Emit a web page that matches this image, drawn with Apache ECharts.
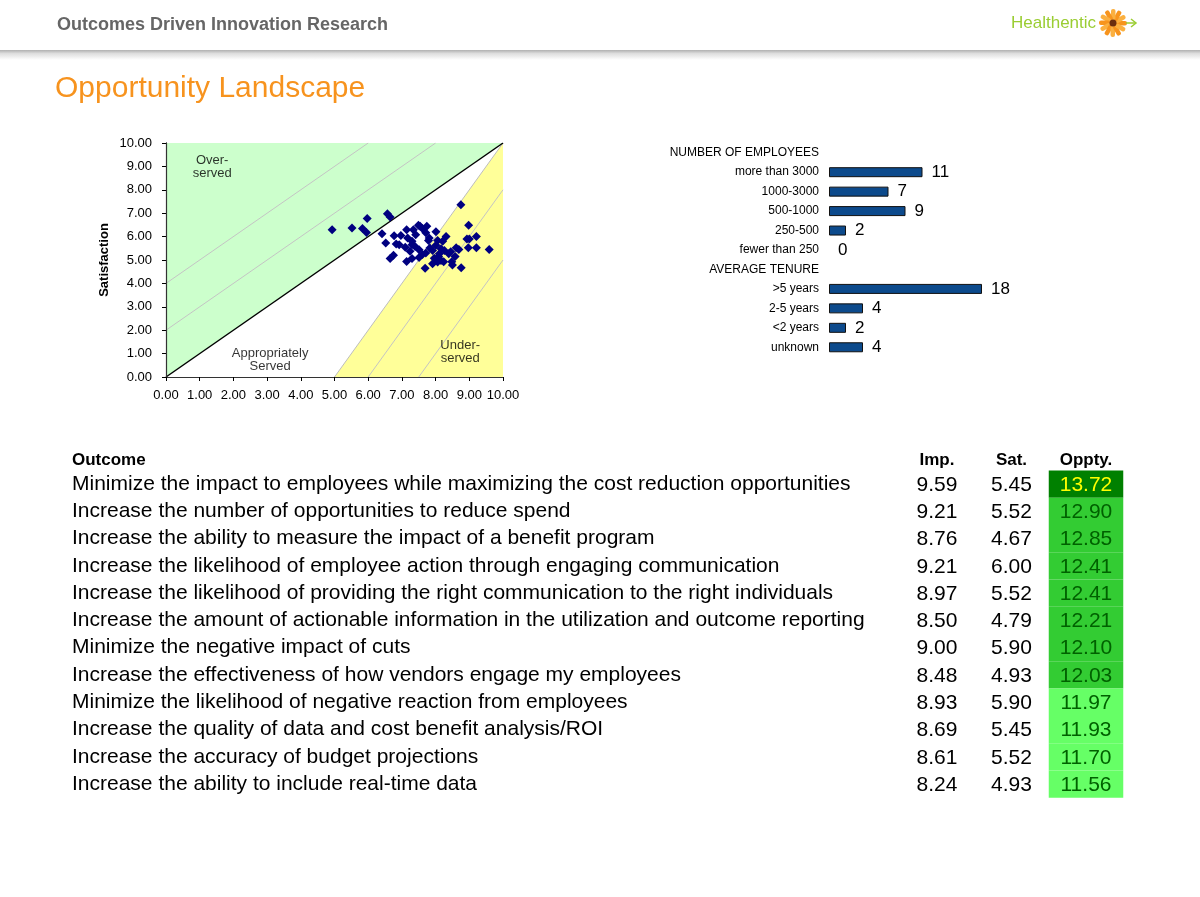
<!DOCTYPE html>
<html>
<head>
<meta charset="utf-8">
<script src="https://cdn.jsdelivr.net/npm/echarts@6/dist/echarts.min.js"></script>
<style>html,body{margin:0;padding:0;background:#fff}#c{width:1200px;height:897px}</style>
</head>
<body>
<div id="c"></div>
<script>
// ---------- DATA ----------
const scatterPoints = [
  [9.59,5.45],[9.21,5.52],[8.76,4.67],[9.21,6.00],[8.97,5.52],[8.50,4.79],
  [9.00,5.90],[8.48,4.93],[8.93,5.90],[8.69,5.45],[8.61,5.52],[8.24,4.93],
  [4.93,6.29],[5.52,6.37],[5.97,6.77],[5.83,6.35],[5.95,6.18],[6.57,6.98],
  [6.65,6.84],[6.41,6.12],[6.52,5.73],[6.77,6.04],[6.97,6.05],[6.83,5.68],
  [6.65,5.06],[6.75,5.20],[7.14,6.29],[7.34,6.29],[7.49,6.48],[7.61,6.35],
  [7.71,6.16],[7.17,5.94],[7.30,5.80],[7.10,5.54],[7.39,5.58],[7.51,5.44],
  [7.71,5.30],[7.14,4.94],[7.30,5.06],[7.51,5.11],[7.61,5.23],[7.79,5.83],
  [8.01,6.21],[8.31,6.00],[8.01,5.63],[8.16,5.48],[8.26,5.41],[8.11,5.27],
  [7.96,5.08],[8.16,4.98],[7.91,4.84],[7.69,4.65],[8.75,7.36],[8.98,6.48],
  [8.39,5.27],[7.83,5.51],[7.91,5.41],[8.06,5.83],[7.41,6.08],[7.24,5.37],
  [6.92,5.65],[8.21,5.80],[7.81,5.94],[8.06,4.91],[8.45,5.35],[8.58,5.15],
  [7.54,6.44],[7.74,6.44],[8.09,5.15],[7.30,5.65]
];
const diagonalLine = [[0,0],[10,10]];
const underservedEdge = [[5,0],[10,10]];
const contourLines = [
  [[0,2],[8,10]],
  [[0,4],[6,10]],
  [[6,0],[10,8]],
  [[7.5,0],[10,5]]
];
const axisValueFormat = 2;

const empCategories = ['NUMBER OF EMPLOYEES','more than 3000','1000-3000','500-1000','250-500','fewer than 250',
  'AVERAGE TENURE','>5 years','2-5 years','<2 years','unknown'];
const empValues = [null,11,7,9,2,0,null,18,4,2,4];

const tableColumns = ['Imp.','Sat.','Oppty.'];
const outcomes = [
  'Minimize the impact to employees while maximizing the cost reduction opportunities',
  'Increase the number of opportunities to reduce spend',
  'Increase the ability to measure the impact of a benefit program',
  'Increase the likelihood of employee action through engaging communication',
  'Increase the likelihood of providing the right communication to the right individuals',
  'Increase the amount of actionable information in the utilization and outcome reporting',
  'Minimize the negative impact of cuts',
  'Increase the effectiveness of how vendors engage my employees',
  'Minimize the likelihood of negative reaction from employees',
  'Increase the quality of data and cost benefit analysis/ROI',
  'Increase the accuracy of budget projections',
  'Increase the ability to include real-time data'
];
const impValues = [9.59,9.21,8.76,9.21,8.97,8.50,9.00,8.48,8.93,8.69,8.61,8.24];
const satValues = [5.45,5.52,4.67,6.00,5.52,4.79,5.90,4.93,5.90,5.45,5.52,4.93];
const opptyValues = [13.72,12.90,12.85,12.41,12.41,12.21,12.10,12.03,11.97,11.93,11.70,11.56];
const opptyTier = [0,1,1,1,1,1,1,1,2,2,2,2];

// ---------- STYLE ----------
const F = '"Liberation Sans", Arial, Helvetica, sans-serif';
const tierFill = ['#008000','#33cc33','#66ff66'];
const tierText = ['#ffff00','#006100','#006100'];

const tableData = [];
outcomes.forEach((o,i)=>{
  tableData.push([0,i,impValues[i],-1]);
  tableData.push([1,i,satValues[i],-1]);
  tableData.push([2,i,opptyValues[i],opptyTier[i]]);
});

const barData = empValues.map(v => v === null ? '-' : (v === 0 ? {value:0, itemStyle:{borderWidth:0}} : v));

// logo petals
const petals = [];
for (let i=0;i<12;i++){
  petals.push({type:'rect', rotation: i*Math.PI/6, shape:{x:3,y:-2,width:11,height:4.5,r:2},
    style:{fill: i%2 ? '#fbb040' : '#f7941d'}});
}
petals.push({type:'circle', shape:{cx:0,cy:0,r:3.5}, style:{fill:'#6b2e0e'}});

const chart = echarts.init(document.getElementById('c'), null, {renderer:'canvas'});
const option = {
  backgroundColor:'#ffffff',
  animation:false,
  textStyle:{fontFamily:F},
  graphic:[
    {type:'rect', shape:{x:0,y:50,width:1200,height:10}, style:{fill:{type:'linear',x:0,y:0,x2:0,y2:1,
      colorStops:[{offset:0,color:'#b0b0b0'},{offset:0.35,color:'#dddddd'},{offset:1,color:'#ffffff'}]}}},
    {type:'text', x:57, y:25, style:{text:'Outcomes Driven Innovation Research', fontSize:18, fontWeight:'bold',
      fontFamily:F, fill:'#666666', verticalAlign:'middle'}},
    {type:'text', x:1011, y:23, style:{text:'Healthentic', fontSize:17, fontFamily:F, fill:'#9acd32', verticalAlign:'middle'}},
    {type:'group', x:1113, y:23, children:petals},
    {type:'polyline', shape:{points:[[1126,23],[1136,23]]}, style:{stroke:'#9acd32', lineWidth:1.5, fill:null}},
    {type:'polyline', shape:{points:[[1131,19],[1136,23],[1131,27]]}, style:{stroke:'#9acd32', lineWidth:1.5, fill:null}},
    {type:'text', x:55, y:89, style:{text:'Opportunity Landscape', fontSize:30, fontFamily:F, fill:'#f7931e', verticalAlign:'middle'}},
    {type:'text', x:72, y:460, style:{text:'Outcome', fontSize:17, fontWeight:'bold', fontFamily:F, fill:'#000', verticalAlign:'middle'}}
  ],
  grid:[
    {left:166, top:143, width:337, height:234},
    {left:829, top:143, width:153, height:214},
    {left:899.75, top:470.4, width:223.5, height:327.3}
  ],
  xAxis:[
    {gridIndex:0, type:'value', min:0, max:10, interval:1, z:10,
      axisLine:{lineStyle:{color:'#000', width:1}},
      axisTick:{show:true, length:4, lineStyle:{color:'#000'}},
      splitLine:{show:false},
      axisLabel:{color:'#000', fontSize:13, fontFamily:F, margin:12, formatter:v=>v.toFixed(axisValueFormat)}},
    {gridIndex:0, type:'value', position:'top', min:0, max:10, z:10,
      axisLine:{show:true, lineStyle:{color:'#333', width:1.2}}, axisTick:{show:false}, axisLabel:{show:false}, splitLine:{show:false}},
    {gridIndex:1, type:'value', min:0, max:18, show:false},
    {gridIndex:2, type:'category', position:'top', data:tableColumns,
      axisLine:{show:false}, axisTick:{show:false}, splitLine:{show:false},
      axisLabel:{fontWeight:'bold', fontSize:17, color:'#000', fontFamily:F, margin:2}}
  ],
  yAxis:[
    {gridIndex:0, type:'value', min:0, max:10, interval:1, z:10,
      name:'Satisfaction', nameLocation:'middle', nameGap:55,
      nameTextStyle:{fontWeight:'bold', fontSize:13, color:'#000', fontFamily:F},
      axisLine:{show:true, lineStyle:{color:'#000', width:1}},
      axisTick:{show:true, length:4, lineStyle:{color:'#000'}},
      splitLine:{show:false},
      axisLabel:{color:'#000', fontSize:13, fontFamily:F, margin:14, formatter:v=>v.toFixed(axisValueFormat)}},
    {gridIndex:0, type:'value', position:'right', min:0, max:10, z:10,
      axisLine:{show:true, lineStyle:{color:'#333', width:1.2}}, axisTick:{show:false}, axisLabel:{show:false}, splitLine:{show:false}},
    {gridIndex:1, type:'category', inverse:true, data:empCategories,
      axisLine:{show:false}, axisTick:{show:false},
      axisLabel:{interval:0, fontSize:12, color:'#000', fontFamily:F, margin:10, padding:[2,0,0,0]}},
    {gridIndex:2, type:'category', inverse:true, data:outcomes,
      axisLine:{show:false}, axisTick:{show:false},
      axisLabel:{interval:0, align:'left', margin:827.75, fontSize:21, color:'#000', fontFamily:F, padding:[4,0,0,0]}}
  ],
  series:[
    {type:'line', xAxisIndex:0, yAxisIndex:0, data:diagonalLine, symbol:'none', silent:true, z:1,
      lineStyle:{width:0, opacity:0}, areaStyle:{color:'#ccffcc', opacity:1, origin:'end'}},
    {type:'line', xAxisIndex:0, yAxisIndex:0, data:underservedEdge, symbol:'none', silent:true, z:1,
      lineStyle:{width:1, color:'#bdbdbd'}, areaStyle:{color:'#ffff99', opacity:1, origin:'start'}},
    {type:'lines', coordinateSystem:'cartesian2d', xAxisIndex:0, yAxisIndex:0, silent:true, z:2,
      data:contourLines.map(c=>({coords:c})), lineStyle:{color:'#c4c4c4', width:1, opacity:1}},
    {type:'line', xAxisIndex:0, yAxisIndex:0, data:diagonalLine, symbol:'none', silent:true, z:3,
      lineStyle:{width:1.5, color:'#000'}},
    {type:'scatter', xAxisIndex:0, yAxisIndex:0, data:scatterPoints, symbol:'diamond', symbolSize:9, z:4,
      itemStyle:{color:'#000080', opacity:1}},
    {type:'scatter', xAxisIndex:0, yAxisIndex:0, symbolSize:0, silent:true, z:5,
      data:[{name:'Over-\nserved', value:[1.37,8.99]},{name:'Appropriately\nServed', value:[3.09,0.74]},{name:'Under-\nserved', value:[8.73,1.09]}],
      label:{show:true, position:'inside', formatter:'{b}', fontSize:13, lineHeight:13, color:'#000', fontFamily:F, align:'center'}},
    {type:'bar', xAxisIndex:2, yAxisIndex:2, data:barData, barWidth:10,
      itemStyle:{color:'#0c4a8c', borderColor:'#111', borderWidth:1},
      label:{show:true, position:'right', distance:9, fontSize:17, color:'#000', fontFamily:F,
        formatter:p=> (p.value === '-' || p.value == null) ? '' : String(p.value)}},
    {type:'custom', xAxisIndex:3, yAxisIndex:3, data:tableData, encode:{x:0, y:1},
      renderItem:(params, api)=>{
        const col = api.value(0), row = api.value(1), val = api.value(2), tier = api.value(3);
        const pt = api.coord([col,row]);
        const sz = api.size([1,1]);
        const children = [];
        if (tier >= 0) {
          children.push({type:'rect', shape:{x:pt[0]-sz[0]/2, y:pt[1]-sz[1]/2, width:sz[0], height:sz[1]},
            style:{fill:tierFill[tier]}});
        }
        children.push({type:'text', style:{text:val.toFixed(2), x:pt[0], y:pt[1]+1, align:'center', verticalAlign:'middle',
          fontSize:21, fontFamily:F, fill: tier >= 0 ? tierText[tier] : '#000'}});
        return {type:'group', children};
      }}
  ]
};
chart.setOption(option);
</script>
</body>
</html>
